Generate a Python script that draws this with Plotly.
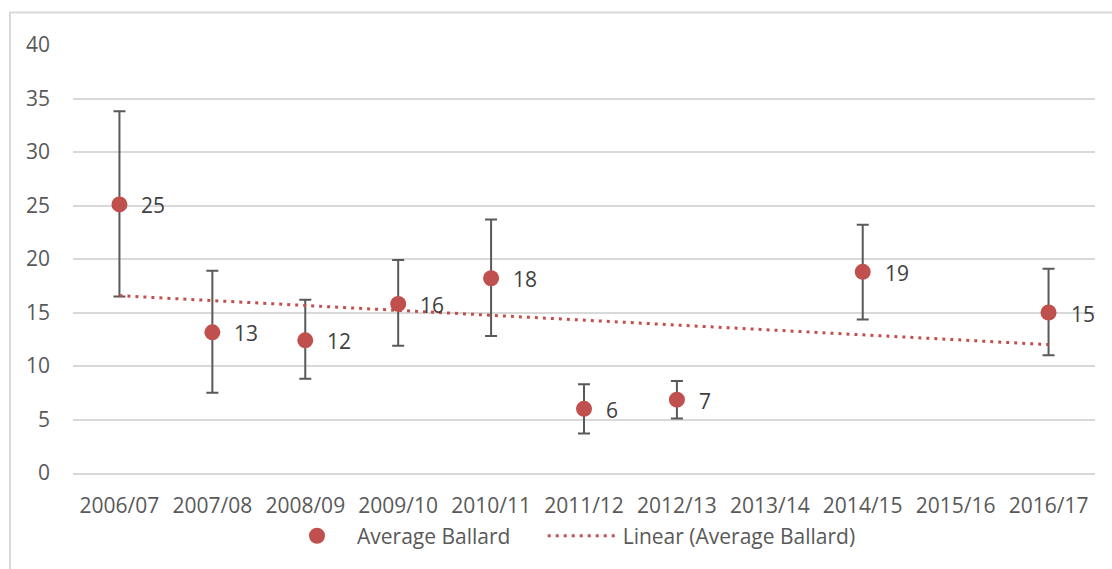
import numpy as np
import plotly.graph_objects as go

# Seasons on the category axis
seasons = ["2006/07", "2007/08", "2008/09", "2009/10", "2010/11", "2011/12",
           "2012/13", "2013/14", "2014/15", "2015/16", "2016/17"]

# Average Ballard per season (None = no data)
avg_ballard = [25.1, 13.15, 12.4, 15.8, 18.2, 6.0, 6.85, None, 18.8, None, 15.0]
# Error bar extents above / below the average
err_plus = [8.7, 5.75, 3.8, 4.1, 5.5, 2.3, 1.75, None, 4.4, None, 4.1]
err_minus = [8.6, 5.65, 3.6, 3.9, 5.4, 2.3, 1.75, None, 4.45, None, 4.0]

y_ticks = [0, 5, 10, 15, 20, 25, 30, 35, 40]

RED = "#c0504d"
GREY_TXT = "#595959"
GRID = "#d9d9d9"
FONT = "Open Sans"

# Linear trendline fitted on season index, as in a spreadsheet trendline
idx = np.arange(len(seasons))
mask = np.array([v is not None for v in avg_ballard])
vals = np.array([v for v in avg_ballard if v is not None], dtype=float)
slope, intercept = np.polyfit(idx[mask], vals, 1)
trend = slope * idx + intercept

fig = go.Figure()

# Non-breaking spaces widen the gap between the two legend entries
fig.add_trace(go.Scatter(
    x=seasons, y=avg_ballard,
    mode="markers",
    name="Average Ballard" + "\u00a0" * 5,
    marker=dict(color=RED, size=16),
    error_y=dict(type="data", symmetric=False,
                 array=[e if e is not None else 0 for e in err_plus],
                 arrayminus=[e if e is not None else 0 for e in err_minus],
                 color=GREY_TXT, thickness=2, width=6),
    cliponaxis=False,
))

fig.add_trace(go.Scatter(
    x=seasons, y=trend,
    mode="lines",
    name="Linear (Average Ballard)",
    line=dict(color=RED, width=3, dash="3px,5px"),
))

# Value labels to the right of each point
for s, v in zip(seasons, avg_ballard):
    if v is None:
        continue
    fig.add_annotation(x=s, y=v, text=f"{v:.0f}", showarrow=False,
                       xanchor="left", yanchor="middle", xshift=20, yshift=-1,
                       font=dict(family=FONT, size=21, color="#404040"))

# Chart-area outline
W, H = 1112, 569
L, R, T, B = 73, 17, 45, 90
pw, ph = W - L - R, H - T - B
def px_x(px):
    return (px - L) / pw
def px_y(py):
    return (H - B - py) / ph

fig.add_shape(type="rect", xref="paper", yref="paper",
              x0=px_x(10), x1=px_x(1125), y0=px_y(12), y1=px_y(590),
              line=dict(color=GRID, width=2), layer="below")

fig.update_layout(
    width=W, height=H,
    margin=dict(l=L, r=R, t=T, b=B),
    paper_bgcolor="white", plot_bgcolor="white",
    font=dict(family=FONT, size=21, color=GREY_TXT),
    showlegend=True,
    legend=dict(orientation="h", x=px_x(277), xanchor="left",
                y=px_y(543), yanchor="middle",
                font=dict(family=FONT, size=21, color=GREY_TXT),
                bgcolor="rgba(0,0,0,0)", itemwidth=70),
)

fig.update_xaxes(
    type="category", range=[-0.5, len(seasons) - 0.5],
    showgrid=False, showline=True, linecolor=GRID, linewidth=2,
    ticks="", ticklabelstandoff=13,
    tickfont=dict(family=FONT, size=21, color=GREY_TXT),
)
fig.update_yaxes(
    range=[0, 40], tickvals=y_ticks,
    showgrid=True, gridcolor=GRID, gridwidth=2,
    zeroline=False, showline=False,
    ticks="", ticklabelstandoff=22,
    tickfont=dict(family=FONT, size=21, color=GREY_TXT),
)

fig.write_html("out.html")
